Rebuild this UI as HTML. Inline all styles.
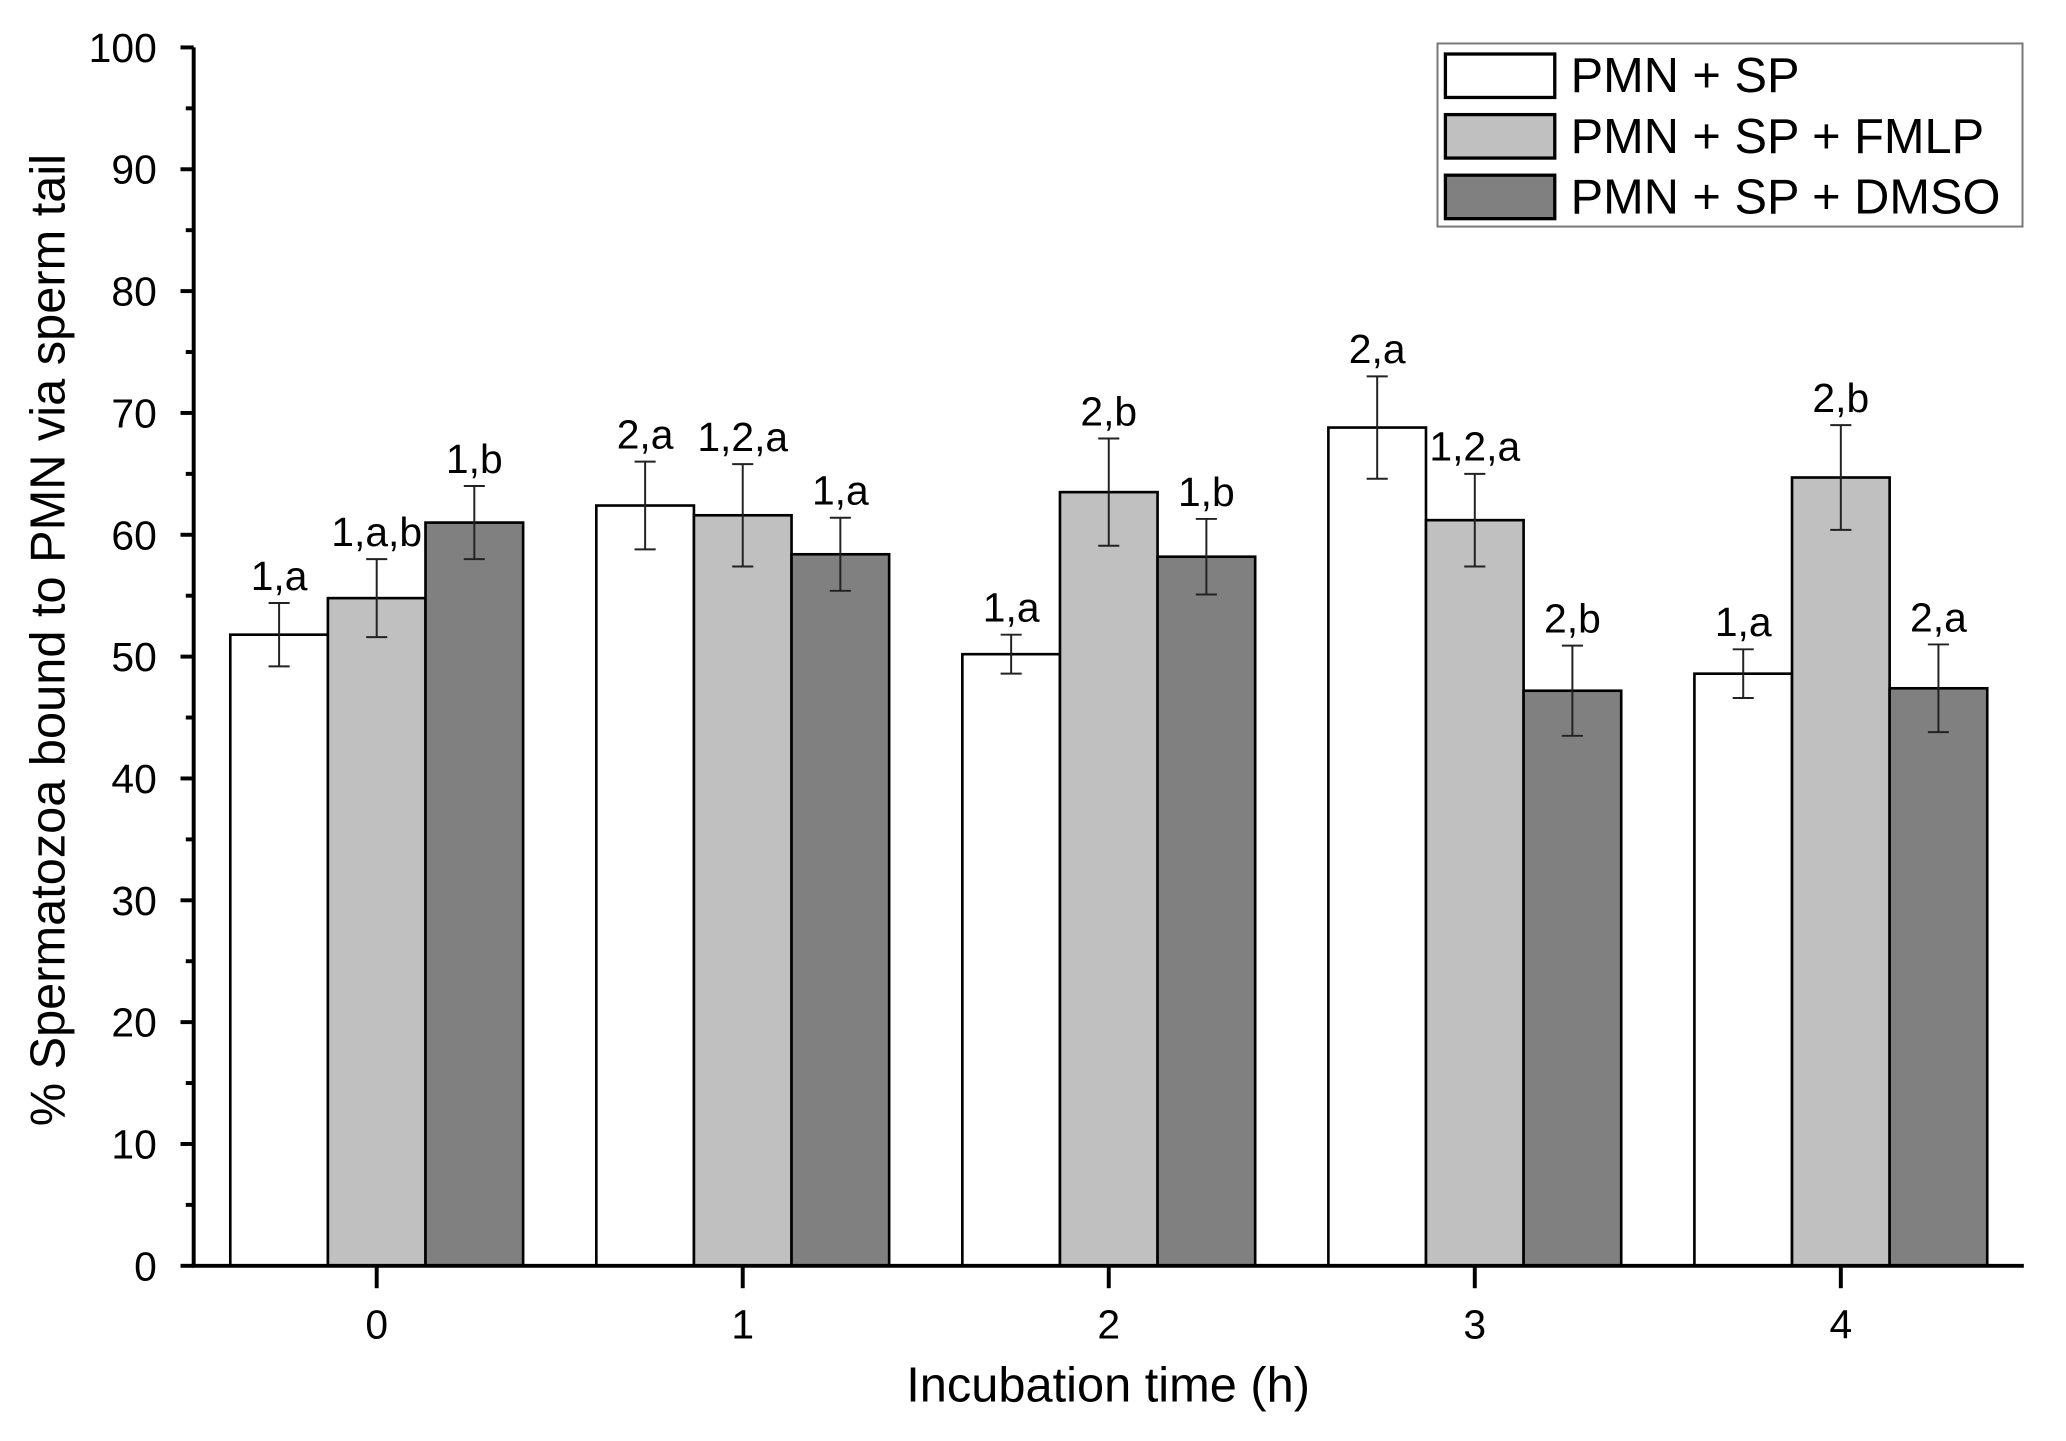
<!DOCTYPE html>
<html><head><meta charset="utf-8"><style>
html,body{margin:0;padding:0;background:#fff}
svg{display:block}
text{font-family:"Liberation Sans",Arial,sans-serif;fill:#000}
</style></head><body>
<svg id="chart" width="2066" height="1441" viewBox="0 0 1568 1094" preserveAspectRatio="none" xmlns="http://www.w3.org/2000/svg">
<g id="plot"></g>
</svg>
<script>
const categories = ["0","1","2","3","4"];
const seriesNames = ["PMN + SP","PMN + SP + FMLP","PMN + SP + DMSO"];
const sp = [51.8, 62.4, 50.2, 68.8, 48.6];
const fmlp = [54.8, 61.6, 63.5, 61.2, 64.7];
const dmso = [61.0, 58.4, 58.2, 47.2, 47.4];
const spErr = [2.6, 3.6, 1.6, 4.2, 2.0];
const fmlpErr = [3.2, 4.2, 4.4, 3.8, 4.3];
const dmsoErr = [3.0, 3.0, 3.1, 3.7, 3.6];
const spLabels = ["1,a","2,a","1,a","2,a","1,a"];
const fmlpLabels = ["1,a,b","1,2,a","2,b","1,2,a","2,b"];
const dmsoLabels = ["1,b","1,a","1,b","2,b","2,a"];
const yTicks = [0,10,20,30,40,50,60,70,80,90,100];

const NS = "http://www.w3.org/2000/svg";
const g = document.getElementById("plot");
const X0 = 147, X1 = 1536, YT = 36, YB = 961;
const xScale = v => X0 + (v + 0.5) / 5 * (X1 - X0);
const yScale = v => YB - v / 100 * (YB - YT);
const step = (X1 - X0) / 5, bw = step * 0.8 / 3;
function el(tag, attrs, txt) {
  const e = document.createElementNS(NS, tag);
  for (const k in attrs) e.setAttribute(k, attrs[k]);
  if (txt !== undefined) e.textContent = txt;
  g.appendChild(e); return e;
}
const series = [[sp, spErr, spLabels, "#ffffff"], [fmlp, fmlpErr, fmlpLabels, "#c0c0c0"], [dmso, dmsoErr, dmsoLabels, "#808080"]];
series.forEach((s, si) => {
  categories.forEach((c, i) => {
    const x = xScale(i) - step * 0.4 + si * bw;
    const y = yScale(s[0][i]);
    const r = el("rect", {x: x, y: y, width: bw, height: YB - y, fill: s[3], stroke: "#000", "stroke-width": 2});
    
    
    const cx = x + bw / 2, yh = yScale(s[0][i] + s[1][i]), yl = yScale(s[0][i] - s[1][i]);
    const e = el("path", {d: `M${cx},${yh}V${yl}M${cx-8},${yh}H${cx+8}M${cx-8},${yl}H${cx+8}`, stroke: "#222", "stroke-width": 1.5, fill: "none"});
    
    
    const t = el("text", {x: cx, y: yh - 10, "text-anchor": "middle", "font-size": 31}, s[2][i]);
    
    
  });
});
const ax = el("path", {d: `M${X0},${YT}V${YB}H${X1}`, stroke: "#000", "stroke-width": 3, fill: "none"});


yTicks.forEach(v => {
  const y = yScale(v);
  el("line", {x1: X0 - 10, x2: X0, y1: y, y2: y, stroke: "#000", "stroke-width": 3});
  if (v < 100) el("line", {x1: X0 - 6, x2: X0, y1: yScale(v + 5), y2: yScale(v + 5), stroke: "#000", "stroke-width": 3});
  const t = el("text", {x: X0 - 28, y: y + 11, "text-anchor": "end", "font-size": 31}, String(v));
  
  
});
categories.forEach((c, i) => {
  const x = xScale(i);
  el("line", {x1: x, x2: x, y1: YB, y2: YB + 17, stroke: "#000", "stroke-width": 3});
  const t = el("text", {x: x, y: YB + 55, "text-anchor": "middle", "font-size": 31}, c);
  
  
});
const xt = el("text", {x: 841, y: 1064, "text-anchor": "middle", "font-size": 37}, "Incubation time (h)");


const yt = el("text", {x: 0, y: 0, "text-anchor": "middle", "font-size": 37, transform: "translate(49,486) rotate(-90)"}, "% Spermatozoa bound to PMN via sperm tail");


const lb = el("rect", {x: 1091, y: 33, width: 444, height: 139, fill: "#fff", stroke: "#777", "stroke-width": 1.5});


seriesNames.forEach((n, i) => {
  const cy = 57 + i * 46;
  const sw = el("rect", {x: 1097, y: cy - 16, width: 83, height: 33, fill: series[i][3], stroke: "#000", "stroke-width": 2.5});
  
  
  const t = el("text", {x: 1192, y: cy + 13, "font-size": 37}, n);
  
  
});
</script>
</body></html>
